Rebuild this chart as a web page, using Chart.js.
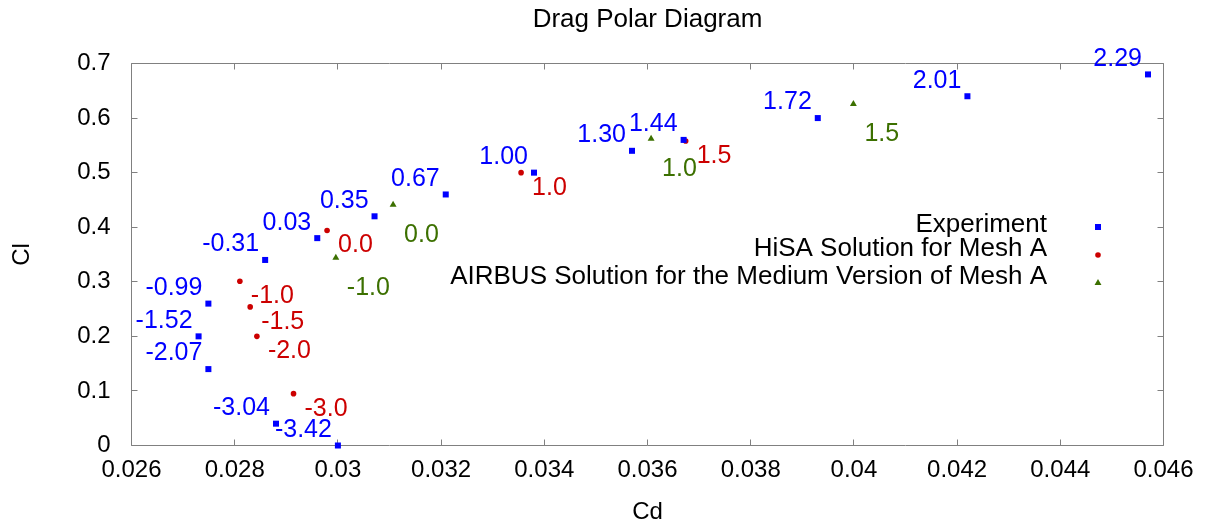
<!DOCTYPE html>
<html>
<head>
<meta charset="utf-8">
<script src="https://cdn.jsdelivr.net/npm/chart.js@4.4.1/dist/chart.umd.min.js"></script>
<style>
html, body { margin: 0; padding: 0; background: #fff; }
#wrap { position: relative; width: 1206px; height: 527px; }
</style>
</head>
<body>
<div id="wrap"><canvas id="chart"></canvas></div>
<script>
const FONT = '"Liberation Sans", Arial, sans-serif';

// Experiment
const expCd = [0.0300, 0.0288, 0.02749, 0.0273, 0.02749, 0.02859, 0.0296, 0.03071, 0.03209, 0.0338, 0.0357, 0.0367, 0.0393, 0.0422, 0.0457];
const expCl = [0.000, 0.040, 0.140, 0.200, 0.260, 0.340, 0.380, 0.420, 0.460, 0.500, 0.540, 0.560, 0.600, 0.640, 0.680];
const expAlpha = ['-3.42', '-3.04', '-2.07', '-1.52', '-0.99', '-0.31', '0.03', '0.35', '0.67', '1.00', '1.30', '1.44', '1.72', '2.01', '2.29'];

// HiSA, mesh A
const hisaCd = [0.02914, 0.02843, 0.0283, 0.0281, 0.02979, 0.03355, 0.03674];
const hisaCl = [0.095, 0.200, 0.254, 0.301, 0.394, 0.500, 0.558];
const hisaAlpha = ['-3.0', '-2.0', '-1.5', '-1.0', '0.0', '1.0', '1.5'];

// AIRBUS, medium mesh A
const airbusCd = [0.02996, 0.03107, 0.03607, 0.03999];
const airbusCl = [0.344, 0.441, 0.562, 0.626];
const airbusAlpha = ['-1.0', '0.0', '1.0', '1.5'];

const xTickLabels = ['0.026', '0.028', '0.03', '0.032', '0.034', '0.036', '0.038', '0.04', '0.042', '0.044', '0.046'];
const yTickLabels = ['0', '0.1', '0.2', '0.3', '0.4', '0.5', '0.6', '0.7'];

function toPoints(xs, ys) {
	return xs.map((x, i) => ({x: x, y: ys[i]}));
}

function drawMarker(ctx, style, r, x, y) {
	ctx.beginPath();
	if (style === 'rect') {
		const s = r * Math.SQRT1_2;
		ctx.rect(x - s, y - s, 2 * s, 2 * s);
	} else if (style === 'triangle') {
		ctx.moveTo(x, y - r);
		ctx.lineTo(x + r * 0.866, y + r * 0.5);
		ctx.lineTo(x - r * 0.866, y + r * 0.5);
		ctx.closePath();
	} else {
		ctx.arc(x, y, r, 0, Math.PI * 2);
	}
	ctx.fill();
}

const frame = {
	id: 'frame',
	beforeDatasetsDraw(chart) {
		const {ctx, chartArea: a, scales: {x, y}} = chart;
		const tick = 6;
		ctx.save();
		ctx.strokeStyle = '#808080';
		ctx.lineWidth = 1;
		ctx.beginPath();
		ctx.rect(a.left, a.top, a.right - a.left, a.bottom - a.top);
		x.ticks.forEach(t => {
			const px = Math.floor(x.getPixelForValue(t.value)) + 0.5;
			ctx.moveTo(px, a.bottom);
			ctx.lineTo(px, a.bottom - tick);
			ctx.moveTo(px, a.top);
			ctx.lineTo(px, a.top + tick);
		});
		y.ticks.forEach(t => {
			const py = Math.floor(y.getPixelForValue(t.value)) + 0.5;
			ctx.moveTo(a.left, py);
			ctx.lineTo(a.left + tick, py);
			ctx.moveTo(a.right, py);
			ctx.lineTo(a.right - tick, py);
		});
		ctx.stroke();

		// title, centred on the plot box
		ctx.fillStyle = '#000';
		ctx.font = '26px ' + FONT;
		ctx.textAlign = 'center';
		ctx.textBaseline = 'middle';
		ctx.fillText('Drag Polar Diagram', (a.left + a.right) / 2, 19.5);
		ctx.restore();
	},
};

const pointLabels = {
	id: 'pointLabels',
	afterDatasetsDraw(chart) {
		const ctx = chart.ctx;
		chart.data.datasets.forEach((ds, i) => {
			const meta = chart.getDatasetMeta(i);
			ctx.save();
			ctx.font = '25px ' + FONT;
			ctx.fillStyle = ds.backgroundColor;
			ctx.textAlign = ds.labelAlign;
			ctx.textBaseline = 'middle';
			meta.data.forEach((pt, j) => {
				ctx.fillText(ds.alphaLabels[j], pt.x + ds.labelDx, pt.y + ds.labelDy);
			});
			ctx.restore();
		});
	},
};

const keyBox = {
	id: 'keyBox',
	afterDraw(chart) {
		const ctx = chart.ctx;
		ctx.save();
		ctx.font = '26px ' + FONT;
		ctx.textAlign = 'right';
		ctx.textBaseline = 'middle';
		chart.data.datasets.forEach((ds, i) => {
			const rowY = 227 + 28 * i;
			ctx.fillStyle = '#000';
			ctx.fillText(ds.label, 1047, rowY - (i === 0 ? 2 : 6));
			ctx.fillStyle = ds.backgroundColor;
			drawMarker(ctx, ds.pointStyle, ds.pointRadius, 1098, rowY);
		});
		ctx.restore();
	},
};

Chart.defaults.color = '#000';
Chart.defaults.font.family = FONT;

new Chart(document.getElementById('chart'), {
	type: 'scatter',
	data: {
		datasets: [
			{
				label: 'Experiment',
				data: toPoints(expCd, expCl),
				alphaLabels: expAlpha,
				backgroundColor: '#0000ff',
				pointStyle: 'rect',
				pointRadius: 4.25,
				pointBorderWidth: 0,
				labelAlign: 'right',
				labelDx: -6,
				labelDy: -15.5,
				clip: false,
			},
			{
				label: 'HiSA Solution for Mesh A',
				data: toPoints(hisaCd, hisaCl),
				alphaLabels: hisaAlpha,
				backgroundColor: '#cc0000',
				pointStyle: 'circle',
				pointRadius: 2.8,
				pointBorderWidth: 0,
				labelAlign: 'left',
				labelDx: 11,
				labelDy: 15,
				clip: false,
			},
			{
				label: 'AIRBUS Solution for the Medium Version of Mesh A',
				data: toPoints(airbusCd, airbusCl),
				alphaLabels: airbusAlpha,
				backgroundColor: '#3c7000',
				pointStyle: 'triangle',
				pointRadius: 4,
				pointBorderWidth: 0,
				labelAlign: 'left',
				labelDx: 11,
				labelDy: 30,
				clip: false,
			},
		],
	},
	options: {
		responsive: true,
		maintainAspectRatio: false,
		animation: false,
		events: [],
		layout: {
			padding: {top: 63.5, right: 42.5, left: 0, bottom: 0},
		},
		plugins: {
			legend: {display: false},
			tooltip: {enabled: false},
		},
		scales: {
			x: {
				type: 'linear',
				min: 0.026,
				max: 0.046,
				afterFit(scale) {
					scale.height = 81.5;
				},
				grid: {display: false, drawTicks: false},
				border: {display: false},
				ticks: {
					stepSize: 0.002,
					padding: 10,
					maxRotation: 0,
					autoSkip: false,
					font: {size: 24},
					callback: (v, i) => xTickLabels[i],
				},
				title: {
					display: true,
					text: 'Cd',
					font: {size: 24},
					padding: {top: 0, bottom: 0},
				},
			},
			y: {
				type: 'linear',
				min: 0,
				max: 0.7,
				afterFit(scale) {
					scale.width = 131.5;
				},
				grid: {display: false, drawTicks: false},
				border: {display: false},
				ticks: {
					stepSize: 0.1,
					padding: 21,
					autoSkip: false,
					font: {size: 24},
					callback: (v, i) => yTickLabels[i],
				},
				title: {
					display: true,
					text: 'Cl',
					font: {size: 24},
					padding: {top: 8, bottom: 0},
				},
			},
		},
	},
	plugins: [frame, pointLabels, keyBox],
});
</script>
</body>
</html>
